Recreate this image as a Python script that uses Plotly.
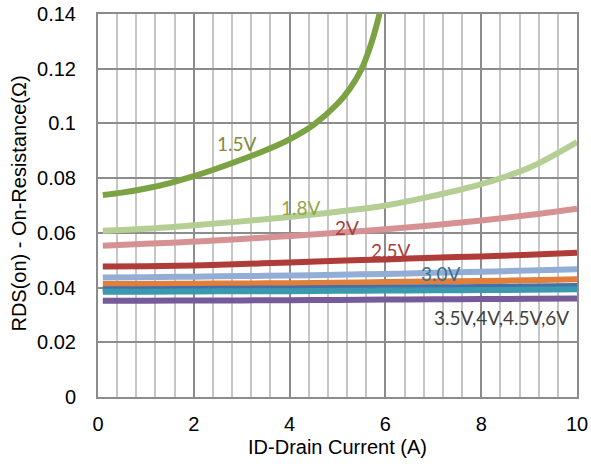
import plotly.graph_objects as go

# Data
x_15 = [0.1, 0.5, 1, 1.5, 2, 2.5, 3, 3.5, 4, 4.5, 5, 5.25, 5.5, 5.7, 5.85, 5.95]
y_15 = [0.0738, 0.0747, 0.0762, 0.0782, 0.0807, 0.0836, 0.0868, 0.0902, 0.0942, 0.0995, 0.1072, 0.1125, 0.1198, 0.1290, 0.1382, 0.1460]

x_std = [0.1, 1, 2, 3, 4, 5, 6, 7, 8, 9, 10]
y_18 = [0.0608, 0.0615, 0.0628, 0.0642, 0.0658, 0.0677, 0.0700, 0.0735, 0.0778, 0.0838, 0.0932]
y_20 = [0.0553, 0.0560, 0.0568, 0.0578, 0.0588, 0.0600, 0.0613, 0.0628, 0.0645, 0.0665, 0.0688]
y_25 = [0.0477, 0.0478, 0.0481, 0.0486, 0.0492, 0.0498, 0.0503, 0.0509, 0.0514, 0.0520, 0.0527]
y_30 = [0.0437, 0.0438, 0.0440, 0.0442, 0.0444, 0.0447, 0.0450, 0.0454, 0.0458, 0.0462, 0.0467]
y_35 = [0.0413, 0.0413, 0.0414, 0.0415, 0.0416, 0.0418, 0.0420, 0.0422, 0.0424, 0.0427, 0.0430]
y_40 = [0.0394, 0.0394, 0.0395, 0.0396, 0.0397, 0.0398, 0.0399, 0.0401, 0.0402, 0.0404, 0.0406]
y_45 = [0.0385, 0.0385, 0.0386, 0.0387, 0.0387, 0.0388, 0.0389, 0.0390, 0.0391, 0.0392, 0.0394]
y_60 = [0.0352, 0.0352, 0.0353, 0.0353, 0.0354, 0.0355, 0.0356, 0.0357, 0.0358, 0.0359, 0.0360]

series = [
    ("1.5V", x_15, y_15, "#7BA344"),
    ("1.8V", x_std, y_18, "#B4CE94"),
    ("2V", x_std, y_20, "#D69292"),
    ("2.5V", x_std, y_25, "#B03C3A"),
    ("3.0V", x_std, y_30, "#93AED6"),
    ("3.5V", x_std, y_35, "#E17F3A"),
    ("4V", x_std, y_40, "#4670A8"),
    ("4.5V", x_std, y_45, "#3A99AE"),
    ("6V", x_std, y_60, "#765A99"),
]

labels = [
    ("1.5V", 2.9, 0.0928, "#7E8A3A"),
    ("1.8V", 4.24, 0.0694, "#96A646"),
    ("2V", 5.2, 0.0618, "#A8403E"),
    ("2.5V", 6.12, 0.0534, "#A8403E"),
    ("3.0V", 7.16, 0.0453, "#3F6E8C"),
    ("3.5V,4V,4.5V,6V", 8.43, 0.0292, "#404040"),
]

fig = go.Figure()
for name, xs, ys, col in series:
    fig.add_trace(go.Scatter(x=xs, y=ys, mode="lines", name=name,
                             line=dict(color=col, width=6, shape="spline", smoothing=1.0)))

for text, lx, ly, col in labels:
    fig.add_annotation(x=lx, y=ly, text=text, showarrow=False,
                       font=dict(family="Lato, Liberation Sans", size=19, color=col))

# y-axis title as a rotated annotation to match its position
fig.add_annotation(xref="paper", yref="paper", x=-0.165, y=0.505,
                   text="RDS(on) - On-Resistance(Ω)", textangle=-90, showarrow=False,
                   xanchor="center", yanchor="middle",
                   font=dict(family="Liberation Sans, Arial", size=20, color="#000000"))

fig.update_layout(
    width=591, height=464,
    margin=dict(l=98, r=14, t=14, b=67),
    paper_bgcolor="white", plot_bgcolor="white",
    showlegend=False,
    font=dict(family="Liberation Sans, Arial", color="#000000"),
)
fig.update_xaxes(
    range=[0, 10], dtick=2, tick0=0, automargin=False,
    showgrid=True, gridcolor="#8c8c8c", gridwidth=1.5,
    minor=dict(dtick=0.4, showgrid=True, gridcolor="#c6c6c6", gridwidth=1.5),
    showline=True, linecolor="#8c8c8c", linewidth=2, mirror=True,
    ticks="outside", ticklen=8, tickcolor="rgba(0,0,0,0)",
    tickfont=dict(size=20), zeroline=False,
    title=dict(text="ID-Drain Current (A)", font=dict(size=20), standoff=6),
)
fig.update_yaxes(
    range=[0, 0.14], dtick=0.02, tick0=0, automargin=False,
    showgrid=True, gridcolor="#8c8c8c", gridwidth=1.5,
    showline=True, linecolor="#8c8c8c", linewidth=2, mirror=True,
    ticks="outside", ticklen=16, tickcolor="rgba(0,0,0,0)",
    tickfont=dict(size=20), zeroline=False,
)

fig.write_html("out.html")
